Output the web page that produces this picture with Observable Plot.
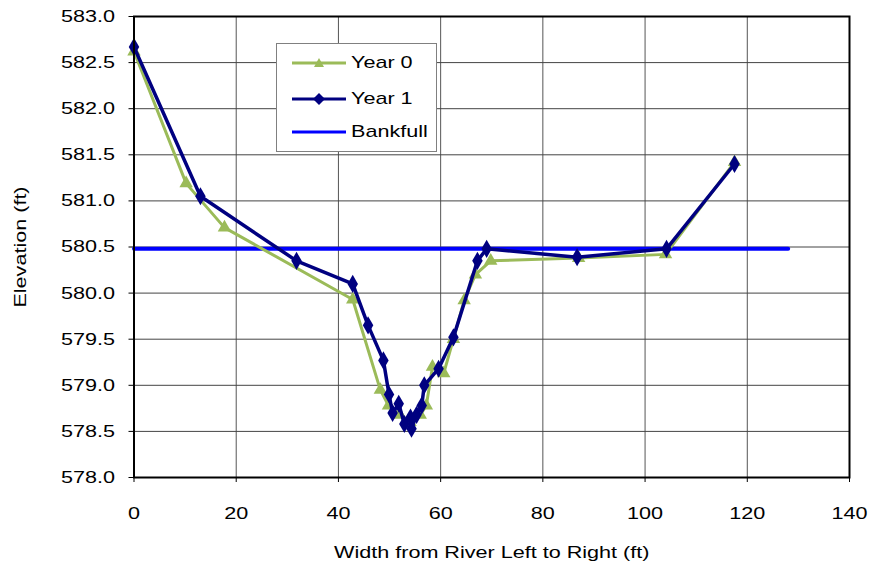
<!DOCTYPE html>
<html>
<head>
<meta charset="utf-8">
<script src="https://cdn.jsdelivr.net/npm/d3@7"></script>
<script src="https://cdn.jsdelivr.net/npm/@observablehq/plot@0.6"></script>
<style>
  body { margin: 0; background: #fff; }
  #wrap { position: relative; width: 873px; height: 563px; font-family: "Liberation Sans", Arial, sans-serif; }
  #legend { position: absolute; left: 276px; top: 43px; width: 159px; height: 107px; border: 1px solid #808080; background: #fff; }
  .item { position: absolute; left: 15px; height: 20px; display: flex; align-items: center; font-size: 17px; color: #000; white-space: nowrap; }
  .item svg { margin-right: 5px; flex: none; }
  .item span { display: inline-block; transform: scaleX(1.27); transform-origin: left center; }
</style>
</head>
<body>
<div id="wrap"></div>
<script>
const year0X = [0, 10.2, 17.7, 42.8, 48.2, 49.8, 52, 54, 56, 57.2, 58.4, 60.6, 62.5, 64.6, 66.8, 69.8, 87, 104, 117.5];
const year0Y = [582.62, 581.19, 580.71, 579.93, 578.95, 578.78, 578.68, 578.6, 578.68, 578.78, 579.2, 579.13, 579.5, 579.92, 580.2, 580.35, 580.38, 580.42, 581.42];
const year1X = [0, 13, 31.8, 42.8, 45.8, 48.8, 49.9, 50.6, 51.8, 52.9, 54.1, 54.3, 55.3, 56.3, 56.8, 59.6, 62.5, 67.2, 69, 86.7, 104.2, 117.5];
const year1Y = [582.67, 581.05, 580.35, 580.1, 579.65, 579.27, 578.9, 578.7, 578.8, 578.58, 578.65, 578.53, 578.68, 578.78, 579.0, 579.18, 579.52, 580.35, 580.48, 580.39, 580.48, 581.4];
const bankX = [0, 128];
const bankY = [580.48, 580.48];
const xTicks = [0, 20, 40, 60, 80, 100, 120, 140];
const yTicks = [578, 578.5, 579, 579.5, 580, 580.5, 581, 581.5, 582, 582.5, 583];

const year0 = year0X.map((x, i) => ({x, y: year0Y[i]}));
const year1 = year1X.map((x, i) => ({x, y: year1Y[i]}));
const bank = bankX.map((x, i) => ({x, y: bankY[i]}));

const C0 = "#9BBB59", C1 = "#000080", CB = "#0000FF";
const STRETCH = 1.27;

const chart = Plot.plot({
  width: 873,
  height: 563,
  marginLeft: 133.5,
  marginRight: 24,
  marginTop: 16,
  marginBottom: 86,
  style: {fontFamily: "'Liberation Sans', Arial, sans-serif", fontSize: "17px", color: "#000", background: "#fff"},
  x: {domain: [0, 140]},
  y: {domain: [578, 583]},
  marks: [
    Plot.gridX(xTicks, {stroke: "#555", strokeOpacity: 1, strokeWidth: 1}),
    Plot.gridY(yTicks, {stroke: "#444", strokeOpacity: 1, strokeWidth: 1}),
    Plot.axisX(xTicks, {tickSize: 5, tickPadding: 24, label: null, fontSize: 17}),
    Plot.axisY(yTicks, {tickSize: 5, tickPadding: 14, tickFormat: d3.format(".1f"), label: null, fontSize: 17}),
    Plot.line(bank, {x: "x", y: "y", stroke: CB, strokeWidth: 4}),
    Plot.line(year0, {x: "x", y: "y", stroke: C0, strokeWidth: 3}),
    Plot.dot(year0, {x: "x", y: "y", symbol: "triangle", fill: C0, r: 5}),
    Plot.line(year1, {x: "x", y: "y", stroke: C1, strokeWidth: 3.5}),
    Plot.dot(year1, {x: "x", y: "y", symbol: "diamond", fill: C1, r: 5.5}),
    Plot.frame({stroke: "#000", strokeWidth: 2}),
    Plot.text(["Width from River Left to Right (ft)"], {frameAnchor: "bottom", dy: 80, fontSize: 17}),
    Plot.text(["Elevation (ft)"], {frameAnchor: "left", textAnchor: "middle", dx: -113, rotate: -90, fontSize: 17})
  ]
});

// horizontally stretch text like the original's widened Arial
chart.querySelectorAll("text").forEach(t => {
  const x = parseFloat(t.getAttribute("x")) || 0;
  const old = t.getAttribute("transform") || "";
  t.setAttribute("transform", `${old} translate(${x},0) scale(${STRETCH},1) translate(${-x},0)`);
});

const wrap = document.getElementById("wrap");
wrap.appendChild(chart);

const legend = document.createElement("div");
legend.id = "legend";
const items = [
  {label: "Year 0", color: C0, sym: "tri", y: 9},
  {label: "Year 1", color: C1, sym: "dia", y: 45},
  {label: "Bankfull", color: CB, sym: null, y: 78}
];
items.forEach(it => {
  const d = document.createElement("div");
  d.className = "item";
  d.style.top = it.y + "px";
  let sym = "";
  if (it.sym === "tri") sym = `<path d="M27,5 L32,14 L22,14 Z" fill="${it.color}"/>`;
  if (it.sym === "dia") sym = `<path d="M27,4 L33,10 L27,16 L21,10 Z" fill="${it.color}"/>`;
  d.innerHTML = `<svg width="54" height="20"><line x1="0" x2="54" y1="10" y2="10" stroke="${it.color}" stroke-width="3"/>${sym}</svg><span>${it.label}</span>`;
  legend.appendChild(d);
});
wrap.appendChild(legend);
</script>
</body>
</html>
